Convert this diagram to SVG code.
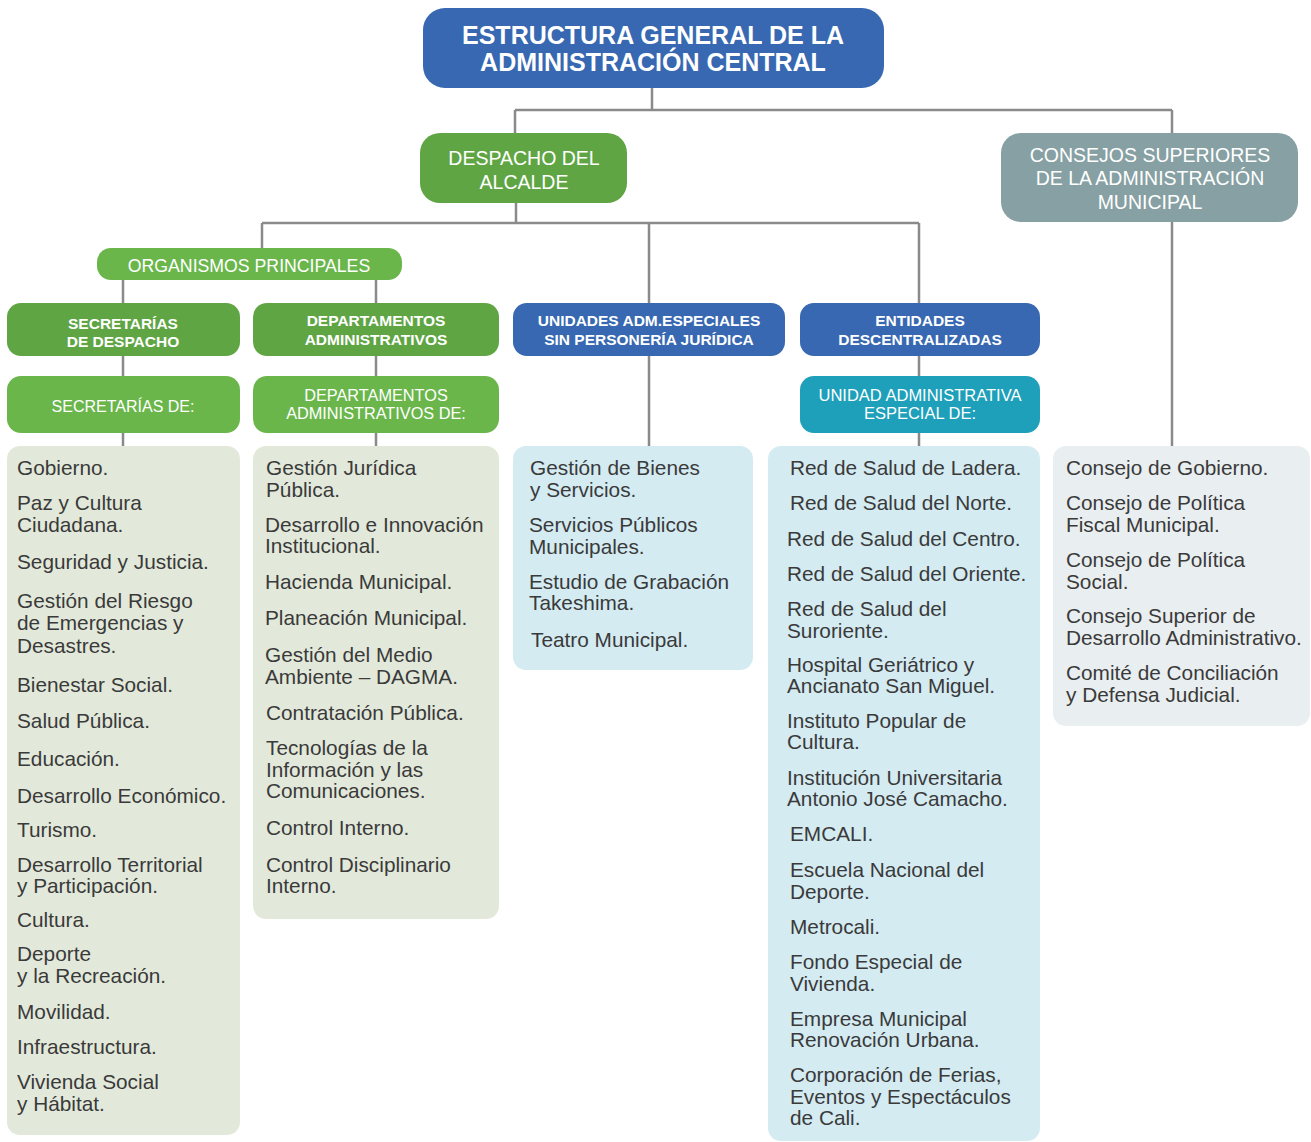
<svg xmlns="http://www.w3.org/2000/svg" width="1311" height="1142" viewBox="0 0 1311 1142">
<style>
.t{font-family:"Liberation Sans",Arial,sans-serif;fill:#fff;text-anchor:middle}
.tb{font-weight:bold}
.it{font-family:"Liberation Sans",Arial,sans-serif;font-size:20.8px;fill:#3a3a3a}
.c{stroke:#8a8a8a;stroke-width:2.5;fill:none}
.blue{fill:#3768b1}
.dg{fill:#60a544}
.lg{fill:#6ab64b}
.grey{fill:#86a0a3}
.teal{fill:#1e9fba}
.lgr{fill:#e3e9da}
.lbl{fill:#d4ebf2}
.lgy{fill:#e9eef0}
</style>
<rect width="1311" height="1142" fill="#fff"/>
<g id="connectors">
<path class="c" d="M652 88V110M515 110H1172M515 110V133M1172 110V133"/>
<path class="c" d="M516 203V223M262 223H919M262 223V248M649 223V303M919 223V303"/>
<path class="c" d="M123 280V303M376 280V303"/>
<path class="c" d="M123 356V376M123 433V446M376 356V376M376 433V446M649 356V446M919 356V376M919 433V446M1172 222V446"/>
</g>
<g id="title">
<rect class="blue" x="423" y="8" width="461" height="80" rx="22"/>
<text class="t tb" font-size="25" x="653" y="44">ESTRUCTURA GENERAL DE LA</text>
<text class="t tb" font-size="25" x="653" y="71">ADMINISTRACIÓN CENTRAL</text>
</g>
<g id="despacho">
<rect class="dg" x="420" y="133" width="207" height="70" rx="20"/>
<text class="t" font-size="19.5" x="524" y="165">DESPACHO DEL</text>
<text class="t" font-size="19.5" x="524" y="189">ALCALDE</text>
</g>
<g id="consejos">
<rect class="grey" x="1001" y="133" width="297" height="89" rx="20"/>
<text class="t" font-size="19.5" x="1150" y="162">CONSEJOS SUPERIORES</text>
<text class="t" font-size="19.5" x="1150" y="185">DE LA ADMINISTRACIÓN</text>
<text class="t" font-size="19.5" x="1150" y="209">MUNICIPAL</text>
</g>
<g id="organismos">
<rect class="lg" x="97" y="248" width="305" height="32" rx="14"/>
<text class="t" font-size="17.7" x="249" y="272">ORGANISMOS PRINCIPALES</text>
</g>
<g id="secretarias-despacho">
<rect class="dg" x="7" y="303" width="233" height="53" rx="14"/>
<text class="t tb" font-size="15.5" x="123" y="329">SECRETARÍAS</text>
<text class="t tb" font-size="15.5" x="123" y="347">DE DESPACHO</text>
</g>
<g id="departamentos-administrativos">
<rect class="dg" x="253" y="303" width="246" height="53" rx="14"/>
<text class="t tb" font-size="15.5" x="376" y="326">DEPARTAMENTOS</text>
<text class="t tb" font-size="15.5" x="376" y="345">ADMINISTRATIVOS</text>
</g>
<g id="unidades">
<rect class="blue" x="513" y="303" width="272" height="53" rx="14"/>
<text class="t tb" font-size="15.5" x="649" y="326">UNIDADES ADM.ESPECIALES</text>
<text class="t tb" font-size="15.5" x="649" y="345">SIN PERSONERÍA JURÍDICA</text>
</g>
<g id="entidades">
<rect class="blue" x="800" y="303" width="240" height="53" rx="14"/>
<text class="t tb" font-size="15.5" x="920" y="326">ENTIDADES</text>
<text class="t tb" font-size="15.5" x="920" y="345">DESCENTRALIZADAS</text>
</g>
<g id="secretarias-de">
<rect class="lg" x="7" y="376" width="233" height="57" rx="14"/>
<text class="t" font-size="16" x="123" y="412">SECRETARÍAS DE:</text>
</g>
<g id="departamentos-de">
<rect class="lg" x="253" y="376" width="246" height="57" rx="14"/>
<text class="t" font-size="16.3" x="376" y="401">DEPARTAMENTOS</text>
<text class="t" font-size="16.3" x="376" y="419">ADMINISTRATIVOS DE:</text>
</g>
<g id="unidad-especial">
<rect class="teal" x="800" y="376" width="240" height="57" rx="14"/>
<text class="t" font-size="16.5" x="920" y="401">UNIDAD ADMINISTRATIVA</text>
<text class="t" font-size="16.5" x="920" y="419">ESPECIAL DE:</text>
</g>
<g id="lista-secretarias">
<rect class="lgr" x="7" y="446" width="233" height="689" rx="13"/>
<text class="it" x="17" y="475">Gobierno.</text>
<text class="it" x="17" y="510">Paz y Cultura</text>
<text class="it" x="17" y="532">Ciudadana.</text>
<text class="it" x="17" y="569">Seguridad y Justicia.</text>
<text class="it" x="17" y="608">Gestión del Riesgo</text>
<text class="it" x="17" y="630">de Emergencias y</text>
<text class="it" x="17" y="653">Desastres.</text>
<text class="it" x="17" y="692">Bienestar Social.</text>
<text class="it" x="17" y="728">Salud Pública.</text>
<text class="it" x="17" y="766">Educación.</text>
<text class="it" x="17" y="803">Desarrollo Económico.</text>
<text class="it" x="17" y="837">Turismo.</text>
<text class="it" x="17" y="872">Desarrollo Territorial</text>
<text class="it" x="17" y="893">y Participación.</text>
<text class="it" x="17" y="927">Cultura.</text>
<text class="it" x="17" y="961">Deporte</text>
<text class="it" x="17" y="983">y la Recreación.</text>
<text class="it" x="17" y="1019">Movilidad.</text>
<text class="it" x="17" y="1054">Infraestructura.</text>
<text class="it" x="17" y="1089">Vivienda Social</text>
<text class="it" x="17" y="1111">y Hábitat.</text>
</g>
<g id="lista-departamentos">
<rect class="lgr" x="253" y="446" width="246" height="473" rx="13"/>
<text class="it" x="266" y="475">Gestión Jurídica</text>
<text class="it" x="266" y="497">Pública.</text>
<text class="it" x="265" y="532">Desarrollo e Innovación</text>
<text class="it" x="265" y="553">Institucional.</text>
<text class="it" x="265" y="589">Hacienda Municipal.</text>
<text class="it" x="265" y="625">Planeación Municipal.</text>
<text class="it" x="265" y="662">Gestión del Medio</text>
<text class="it" x="265" y="684">Ambiente – DAGMA.</text>
<text class="it" x="266" y="720">Contratación Pública.</text>
<text class="it" x="266" y="755">Tecnologías de la</text>
<text class="it" x="266" y="777">Información y las</text>
<text class="it" x="266" y="798">Comunicaciones.</text>
<text class="it" x="266" y="835">Control Interno.</text>
<text class="it" x="266" y="872">Control Disciplinario</text>
<text class="it" x="266" y="893">Interno.</text>
</g>
<g id="lista-unidades">
<rect class="lbl" x="513" y="446" width="240" height="224" rx="13"/>
<text class="it" x="530" y="475">Gestión de Bienes</text>
<text class="it" x="530" y="497">y Servicios.</text>
<text class="it" x="529" y="532">Servicios Públicos</text>
<text class="it" x="529" y="554">Municipales.</text>
<text class="it" x="529" y="589">Estudio de Grabación</text>
<text class="it" x="529" y="610">Takeshima.</text>
<text class="it" x="531" y="647">Teatro Municipal.</text>
</g>
<g id="lista-entidades">
<rect class="lbl" x="768" y="446" width="272" height="695" rx="13"/>
<text class="it" x="790" y="475">Red de Salud de Ladera.</text>
<text class="it" x="790" y="510">Red de Salud del Norte.</text>
<text class="it" x="787" y="546">Red de Salud del Centro.</text>
<text class="it" x="787" y="581">Red de Salud del Oriente.</text>
<text class="it" x="787" y="616">Red de Salud del</text>
<text class="it" x="787" y="638">Suroriente.</text>
<text class="it" x="787" y="672">Hospital Geriátrico y</text>
<text class="it" x="787" y="693">Ancianato San Miguel.</text>
<text class="it" x="787" y="728">Instituto Popular de</text>
<text class="it" x="787" y="749">Cultura.</text>
<text class="it" x="787" y="785">Institución Universitaria</text>
<text class="it" x="787" y="806">Antonio José Camacho.</text>
<text class="it" x="790" y="841">EMCALI.</text>
<text class="it" x="790" y="877">Escuela Nacional del</text>
<text class="it" x="790" y="899">Deporte.</text>
<text class="it" x="790" y="934">Metrocali.</text>
<text class="it" x="790" y="969">Fondo Especial de</text>
<text class="it" x="790" y="991">Vivienda.</text>
<text class="it" x="790" y="1026">Empresa Municipal</text>
<text class="it" x="790" y="1047">Renovación Urbana.</text>
<text class="it" x="790" y="1082">Corporación de Ferias,</text>
<text class="it" x="790" y="1104">Eventos y Espectáculos</text>
<text class="it" x="790" y="1125">de Cali.</text>
</g>
<g id="lista-consejos">
<rect class="lgy" x="1053" y="446" width="257" height="280" rx="13"/>
<text class="it" x="1066" y="475">Consejo de Gobierno.</text>
<text class="it" x="1066" y="510">Consejo de Política</text>
<text class="it" x="1066" y="532">Fiscal Municipal.</text>
<text class="it" x="1066" y="567">Consejo de Política</text>
<text class="it" x="1066" y="589">Social.</text>
<text class="it" x="1066" y="623">Consejo Superior de</text>
<text class="it" x="1066" y="645">Desarrollo Administrativo.</text>
<text class="it" x="1066" y="680">Comité de Conciliación</text>
<text class="it" x="1066" y="702">y Defensa Judicial.</text>
</g>
</svg>
